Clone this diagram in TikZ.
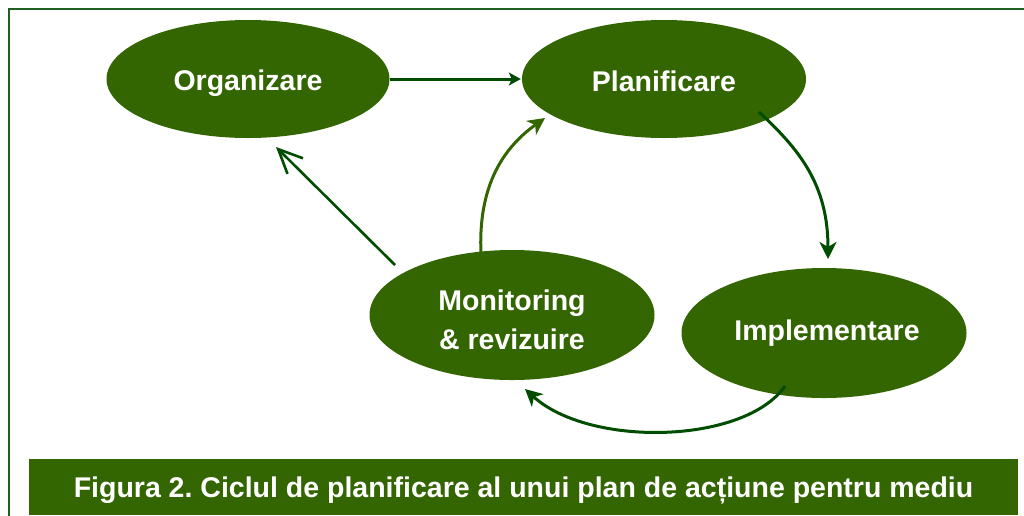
\documentclass[tikz,border=0pt]{standalone}
\usepackage{fontspec}
\setmainfont{Liberation Sans}
\usetikzlibrary{shapes.geometric,arrows.meta}
\definecolor{leaf}{HTML}{336600}
\definecolor{darkleaf}{HTML}{004D00}
\definecolor{frame}{HTML}{1F5F1F}
\frenchspacing
\tikzset{
  phase/.style={ellipse,fill=leaf,inner sep=0pt},
  phasetext/.style={text=white,font=\bfseries\fontsize{28.5}{39.5}\selectfont,align=center,inner sep=0pt},
  flow/.style={draw=darkleaf,line width=3pt,-{Stealth[length=17pt,width=17pt,inset=5pt]}},
  flowthin/.style={draw=darkleaf,line width=3pt,-{Stealth[length=12pt,width=13pt,inset=3pt]}},
  flowlight/.style={draw=leaf,line width=3pt,-{Stealth[length=17pt,width=17pt,inset=5pt]}},
  flowopen/.style={draw=darkleaf,line width=2.6pt,-{Straight Barb[length=24pt,width=22pt,line width=2.6pt]}},
}
\begin{document}
\begin{tikzpicture}[x=1pt,y=-1pt]
\useasboundingbox (0,0) rectangle (1024,515);
\clip (0,0) rectangle (1024,515);
\fill[white] (0,0) rectangle (1024,515);
\draw[frame,line width=2pt] (9,9) rectangle (1040,540);
\node[phase,minimum width=283pt,minimum height=118pt,
  label={[phasetext,yshift=-4.5pt]center:Organizare}] (org) at (248,79) {};
\node[phase,minimum width=284pt,minimum height=118pt,
  label={[phasetext,yshift=-2pt]center:Planificare}] (plan) at (664,79) {};
\node[phase,minimum width=285pt,minimum height=130pt,
  label={[phasetext,yshift=-5pt]center:Monitoring\\\& revizuire}] (mon) at (512,315) {};
\node[phase,minimum width=285pt,minimum height=130pt,
  label={[phasetext,xshift=3pt]center:Implementare}] (impl) at (824,333) {};
\node[fill=leaf,text=white,font=\bfseries\fontsize{28.5}{32}\selectfont,
  text height=20pt,text depth=0pt,inner sep=0pt,
  minimum width=989pt,minimum height=56pt] (cap) at (523.5,487)
  {Figura 2. Ciclul de planificare al unui plan de acțiune pentru mediu};
\coordinate (p2s) at (759,112);
\coordinate (p2e) at (828,259);
\coordinate (p3s) at (785,386);
\coordinate (p3e) at (525,389);
\coordinate (p4s) at (481,254);
\coordinate (p4e) at (545,118);
\coordinate (p5s) at (395,265);
\coordinate (p5e) at (276,147);
\draw[flowthin] (org.east) -- ([xshift=-1pt]plan.west);
\draw[flow] (p2s) .. controls (800,150) and (828,185) .. (p2e);
\draw[flow] (p3s) .. controls (745,444) and (590,448) .. (p3e);
\draw[flowlight] (p4s) .. controls (478,190) and (500,150) .. (p4e);
\draw[flowopen] (p5s) -- (p5e);
\end{tikzpicture}
\end{document}
